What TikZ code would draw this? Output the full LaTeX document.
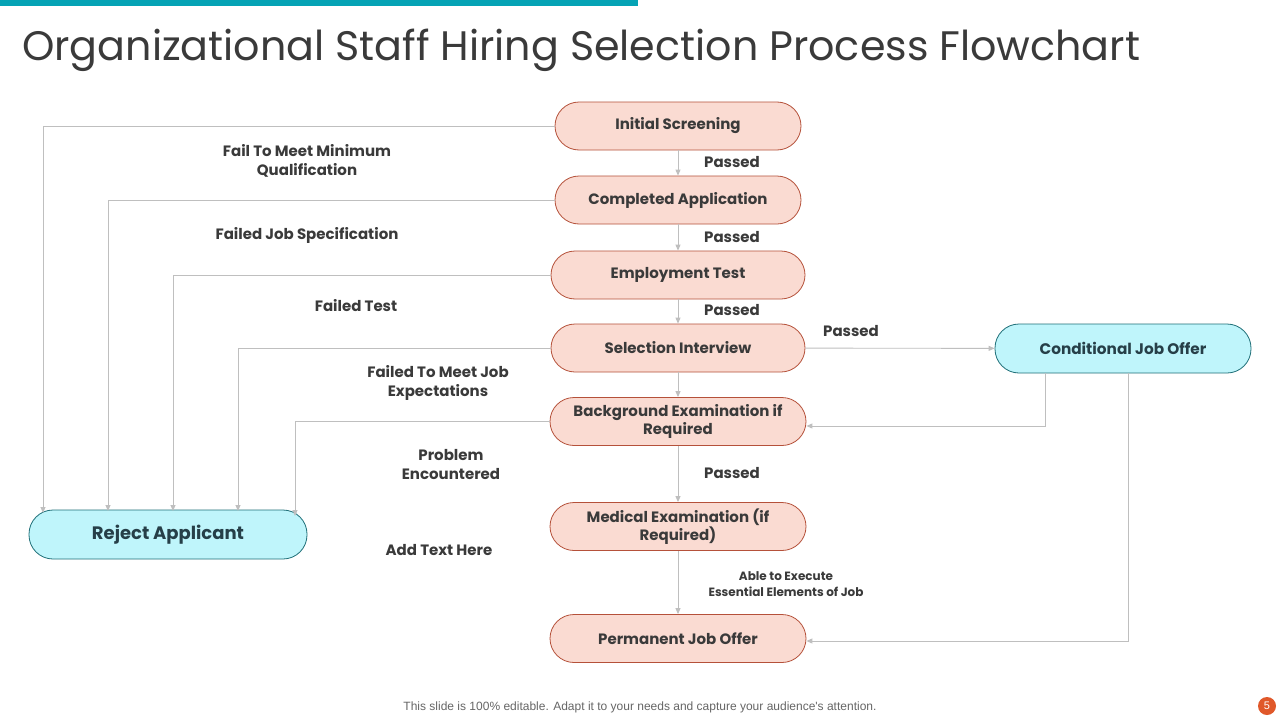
\documentclass[tikz,border=0pt]{standalone}
\usepackage{fontspec}
\setmainfont{Poppins}
\newfontfamily\footfont{Liberation Sans}
\usetikzlibrary{arrows.meta}
\definecolor{txt}{HTML}{3A3A3A}
\definecolor{salfill}{HTML}{FADBD2}
\definecolor{saledge}{HTML}{B5513A}
\definecolor{cyfill}{HTML}{BFF5FB}
\definecolor{cyedge}{HTML}{1F6F78}
\definecolor{cytxt}{HTML}{263F48}
\definecolor{conn}{HTML}{BFBFBF}
\definecolor{teal}{HTML}{05A3B5}
\definecolor{pageor}{HTML}{E0582A}
\tikzset{
  pill/.style={draw=saledge, fill=salfill, line width=0.8pt, rounded corners=24pt,
    minimum width=254pt, minimum height=48pt, align=center, text=txt,
    font=\fontsize{15}{18}\selectfont\bfseries, inner sep=0pt},
  cpill/.style={draw=cyedge, fill=cyfill, line width=0.8pt, rounded corners=24pt,
    minimum width=256pt, minimum height=49pt, align=center, text=cytxt,
    font=\fontsize{15.3}{19}\selectfont\bfseries, inner sep=0pt},
  conline/.style={draw=conn, line width=0.9pt},
  conarrow/.style={conline, -{Triangle[length=6pt,width=5pt]}},
  lbl/.style={text=txt, align=center, font=\fontsize{15}{19}\selectfont\bfseries, inner sep=0pt},
  slbl/.style={text=txt, align=center, font=\fontsize{12}{16}\selectfont\bfseries, inner sep=0pt}
}
\begin{document}
\begin{tikzpicture}[x=1pt,y=-1pt]
\useasboundingbox[fill=white] (0,0) rectangle (1280,720);
\fill[teal] (0,0) rectangle (638,6);
\node[anchor=base west, text=txt, inner sep=0pt, font=\fontsize{41.2}{45}\selectfont] (title) at (22,60) {Organizational Staff Hiring Selection Process Flowchart};

% main nodes
\node[pill, minimum width=246pt] (is) at (678,126) {Initial Screening};
\node[pill, minimum width=246pt] (ca) at (678,200) {Completed Application};
\node[pill] (et) at (678,275) {Employment Test};
\node[pill] (si) at (678,348) {Selection Interview};
\node[pill, minimum width=256pt] (be) at (678,421.5) {Background Examination if\\Required};
\node[pill, minimum width=256pt] (me) at (678,526.5) {Medical Examination (if\\Required)};
\node[pill, minimum width=256pt] (pj) at (678,638.5) {Permanent Job Offer};
\node[cpill] (cj) at (1123,348.5) {Conditional Job Offer};
\node[cpill, minimum width=278pt, font=\fontsize{18}{21}\selectfont\bfseries] (ra) at (168,534.5) {Reject Applicant};

% helper coordinates
\coordinate (r1) at (43,513);
\coordinate (r2) at (108,511);
\coordinate (r3) at (173,511);
\coordinate (r4) at (238,511);
\coordinate (r5) at (295,516);
\coordinate (c1) at (1045,426);
\coordinate (c2) at (1128,641);

% vertical flow
\draw[conarrow] (is) -- (ca);
\draw[conarrow] (ca) -- (et);
\draw[conarrow] (et) -- (si);
\draw[conarrow] (si) -- (be);
\draw[conarrow] (be) -- (me);
\draw[conarrow] (me) -- (pj);
\draw[conarrow] (si) -- (cj);

% reject lines
\draw[conarrow] (is.west) -| (r1);
\draw[conarrow] (ca.west) -| (r2);
\draw[conarrow] (et.west) -| (r3);
\draw[conarrow] (si.west) -| (r4);
\draw[conarrow] (be.west) -| (r5);

% conditional returns
\draw[conarrow] (cj.south -| c1) |- (be.east |- c1);
\draw[conarrow] (cj.south -| c2) |- (pj.east |- c2);

% labels
\node[lbl] (p1) at (732,162) {Passed};
\node[lbl] (p2) at (732,237) {Passed};
\node[lbl] (p3) at (732,310) {Passed};
\node[lbl] (p4) at (851,331) {Passed};
\node[lbl] (p5) at (732,473) {Passed};
\node[lbl] (l1) at (307,161) {Fail To Meet Minimum\\Qualification};
\node[lbl] (l2) at (307,235) {Failed Job Specification};
\node[lbl] (l3) at (356,306) {Failed Test};
\node[lbl] (l4) at (438,383) {Failed To Meet Job\\Expectations};
\node[lbl] (l5) at (451,465) {Problem\\Encountered};
\node[lbl] (l6) at (439,550) {Add Text Here};
\node[slbl] (l7) at (786,584) {Able to Execute\\Essential Elements of Job};

% footer
\node[text=black!60, font=\footfont\fontsize{12}{14}\selectfont, inner sep=0pt] (foot) at (640,707) {This slide is 100\% editable. Adapt it to your needs and capture your audience's attention.};
\node[circle, fill=pageor, text=white, minimum size=18pt, inner sep=0pt, font=\footfont\fontsize{11}{13}\selectfont] (pg) at (1267,706) {5};
\end{tikzpicture}
\end{document}
